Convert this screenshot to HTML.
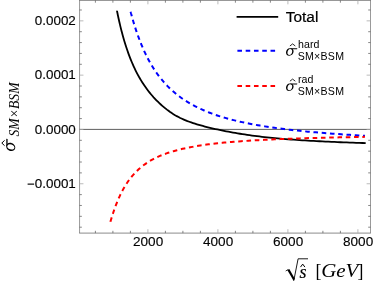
<!DOCTYPE html>
<html><head><meta charset="utf-8"><style>
html,body{margin:0;padding:0;background:#fff;}
body{width:374px;height:283px;overflow:hidden;font-family:"Liberation Sans",sans-serif;}
svg{display:block;filter:blur(0.35px);}
</style></head><body>
<svg width="374" height="283" viewBox="0 0 374 283">
<rect width="374" height="283" fill="#fff"/>
<path d="M79.55,0V233.1M370.5,0V233.1" stroke="#6e6e6e" stroke-width="0.7" fill="none"/>
<path d="M79.2,0.4H370.85M79.2,233.1H370.85" stroke="#6e6e6e" stroke-width="0.8" fill="none"/>
<line x1="79.55" y1="129.4" x2="370.5" y2="129.4" stroke="#4d4d4d" stroke-width="0.9"/>
<path d="M95.40,233.1v-2.3M95.40,0.4v2.3M112.90,233.1v-2.3M112.90,0.4v2.3M130.40,233.1v-2.3M130.40,0.4v2.3M165.40,233.1v-2.3M165.40,0.4v2.3M182.90,233.1v-2.3M182.90,0.4v2.3M200.40,233.1v-2.3M200.40,0.4v2.3M235.40,233.1v-2.3M235.40,0.4v2.3M252.90,233.1v-2.3M252.90,0.4v2.3M270.40,233.1v-2.3M270.40,0.4v2.3M305.40,233.1v-2.3M305.40,0.4v2.3M322.90,233.1v-2.3M322.90,0.4v2.3M340.40,233.1v-2.3M340.40,0.4v2.3M79.55,227.19h2.3M370.5,227.19h-2.3M79.55,216.33h2.3M370.5,216.33h-2.3M79.55,205.47h2.3M370.5,205.47h-2.3M79.55,194.61h2.3M370.5,194.61h-2.3M79.55,172.89h2.3M370.5,172.89h-2.3M79.55,162.03h2.3M370.5,162.03h-2.3M79.55,151.17h2.3M370.5,151.17h-2.3M79.55,140.31h2.3M370.5,140.31h-2.3M79.55,118.59h2.3M370.5,118.59h-2.3M79.55,107.73h2.3M370.5,107.73h-2.3M79.55,96.87h2.3M370.5,96.87h-2.3M79.55,86.01h2.3M370.5,86.01h-2.3M79.55,64.29h2.3M370.5,64.29h-2.3M79.55,53.43h2.3M370.5,53.43h-2.3M79.55,42.57h2.3M370.5,42.57h-2.3M79.55,31.71h2.3M370.5,31.71h-2.3M79.55,9.99h2.3M370.5,9.99h-2.3" stroke="#555" stroke-width="0.7" fill="none"/>
<path d="M147.90,233.1v-3.9M147.90,0.4v3.9M217.90,233.1v-3.9M217.90,0.4v3.9M287.90,233.1v-3.9M287.90,0.4v3.9M357.90,233.1v-3.9M357.90,0.4v3.9M79.55,183.75h3.9M370.5,183.75h-3.9M79.55,129.45h3.9M370.5,129.45h-3.9M79.55,75.15h3.9M370.5,75.15h-3.9M79.55,20.85h3.9M370.5,20.85h-3.9" stroke="#aaa" stroke-width="0.8" fill="none"/>
<path d="M116.95,10.71 L116.98,10.89 L117.07,11.31 L117.20,11.96 L117.37,12.79 L117.58,13.80 L117.82,14.97 L118.10,16.28 L118.41,17.73 L118.75,19.30 L119.13,20.99 L119.54,22.77 L119.98,24.64 L120.44,26.60 L120.94,28.62 L121.47,30.70 L122.03,32.84 L122.61,35.01 L123.23,37.22 L123.87,39.46 L124.54,41.72 L125.24,43.99 L125.96,46.27 L126.71,48.56 L127.49,50.83 L128.29,53.10 L129.12,55.36 L129.98,57.60 L130.86,59.82 L131.76,62.02 L132.70,64.19 L133.65,66.33 L134.64,68.44 L135.64,70.52 L136.67,72.56 L137.73,74.57 L138.81,76.55 L139.92,78.48 L141.05,80.38 L142.20,82.24 L143.38,84.06 L144.58,85.84 L145.80,87.58 L147.05,89.29 L148.32,90.96 L149.62,92.60 L150.94,94.20 L152.28,95.76 L153.64,97.30 L155.03,98.79 L156.44,100.26 L157.87,101.69 L159.33,103.10 L160.81,104.47 L162.31,105.81 L163.83,107.12 L165.38,108.40 L166.94,109.64 L168.53,110.84 L170.14,112.01 L171.78,113.12 L173.43,114.18 L175.11,115.20 L176.81,116.16 L178.53,117.07 L180.28,117.95 L182.04,118.78 L183.83,119.58 L185.63,120.34 L187.46,121.07 L189.31,121.76 L191.18,122.43 L193.08,123.08 L194.99,123.70 L196.92,124.30 L198.88,124.88 L200.86,125.44 L202.86,125.99 L204.87,126.52 L206.91,127.04 L208.97,127.54 L211.05,128.04 L213.16,128.53 L215.28,129.01 L217.42,129.48 L219.58,129.94 L221.77,130.40 L223.97,130.85 L226.20,131.29 L228.44,131.72 L230.71,132.14 L232.99,132.55 L235.30,132.96 L237.62,133.35 L239.97,133.74 L242.33,134.11 L244.72,134.48 L247.12,134.83 L249.55,135.18 L252.00,135.52 L254.46,135.84 L256.95,136.16 L259.45,136.47 L261.98,136.77 L264.52,137.06 L267.08,137.34 L269.67,137.61 L272.27,137.88 L274.89,138.13 L277.53,138.38 L280.20,138.62 L282.88,138.85 L285.58,139.08 L288.30,139.29 L291.04,139.50 L293.79,139.71 L296.57,139.90 L299.37,140.09 L302.19,140.28 L305.02,140.46 L307.87,140.63 L310.75,140.80 L313.64,140.96 L316.55,141.12 L319.48,141.27 L322.43,141.42 L325.40,141.57 L328.39,141.71 L331.39,141.84 L334.42,141.97 L337.46,142.10 L340.53,142.23 L343.61,142.35 L346.71,142.46 L349.83,142.58 L352.96,142.69 L356.12,142.80 L359.29,142.90 L362.49,143.00 L365.70,143.10" stroke="#000" stroke-width="1.8" fill="none"/>
<path d="M130.60,11.73 L130.63,11.85 L130.71,12.16 L130.84,12.62 L130.99,13.22 L131.19,13.94 L131.42,14.79 L131.68,15.74 L131.97,16.80 L132.30,17.96 L132.65,19.20 L133.04,20.52 L133.45,21.92 L133.89,23.39 L134.36,24.93 L134.86,26.51 L135.38,28.15 L135.94,29.84 L136.51,31.57 L137.12,33.33 L137.75,35.12 L138.41,36.93 L139.09,38.77 L139.79,40.62 L140.53,42.48 L141.28,44.35 L142.07,46.23 L142.87,48.10 L143.70,49.97 L144.56,51.84 L145.43,53.70 L146.34,55.54 L147.26,57.38 L148.21,59.20 L149.18,61.00 L150.18,62.78 L151.20,64.53 L152.24,66.27 L153.30,67.98 L154.39,69.67 L155.50,71.33 L156.63,72.97 L157.78,74.57 L158.96,76.15 L160.16,77.70 L161.38,79.22 L162.62,80.72 L163.88,82.18 L165.17,83.61 L166.47,85.01 L167.80,86.39 L169.15,87.73 L170.52,89.04 L171.92,90.33 L173.33,91.58 L174.77,92.81 L176.22,94.01 L177.70,95.18 L179.20,96.32 L180.72,97.44 L182.25,98.53 L183.81,99.59 L185.40,100.63 L187.00,101.64 L188.62,102.63 L190.26,103.59 L191.92,104.53 L193.60,105.44 L195.31,106.33 L197.03,107.20 L198.77,108.05 L200.54,108.88 L202.32,109.68 L204.12,110.47 L205.95,111.23 L207.79,111.98 L209.65,112.71 L211.53,113.42 L213.43,114.11 L215.36,114.78 L217.30,115.44 L219.26,116.08 L221.24,116.70 L223.24,117.31 L225.25,117.90 L227.29,118.48 L229.35,119.04 L231.43,119.59 L233.52,120.12 L235.64,120.65 L237.77,121.16 L239.92,121.65 L242.10,122.14 L244.29,122.61 L246.50,123.07 L248.72,123.52 L250.97,123.96 L253.24,124.39 L255.52,124.80 L257.83,125.21 L260.15,125.61 L262.49,126.00 L264.85,126.38 L267.23,126.75 L269.63,127.11 L272.04,127.46 L274.48,127.81 L276.93,128.14 L279.40,128.47 L281.89,128.79 L284.40,129.11 L286.92,129.41 L289.47,129.71 L292.03,130.00 L294.61,130.29 L297.21,130.57 L299.82,130.84 L302.46,131.11 L305.11,131.37 L307.78,131.63 L310.47,131.88 L313.18,132.12 L315.90,132.36 L318.65,132.60 L321.41,132.82 L324.19,133.05 L326.98,133.27 L329.80,133.48 L332.63,133.69 L335.48,133.90 L338.35,134.10 L341.23,134.30 L344.14,134.49 L347.06,134.68 L350.00,134.86 L352.95,135.04 L355.92,135.22 L358.92,135.40 L361.92,135.57 L364.95,135.73" stroke="#0000ff" stroke-width="2.0" stroke-dasharray="4.58 3.70" fill="none"/>
<path d="M110.40,221.80 L110.44,221.68 L110.52,221.38 L110.66,220.92 L110.83,220.33 L111.04,219.61 L111.29,218.78 L111.57,217.85 L111.89,216.81 L112.24,215.69 L112.63,214.48 L113.05,213.20 L113.50,211.85 L113.98,210.45 L114.49,208.99 L115.03,207.49 L115.60,205.96 L116.20,204.39 L116.82,202.80 L117.48,201.19 L118.17,199.57 L118.88,197.94 L119.62,196.31 L120.39,194.68 L121.18,193.07 L122.00,191.46 L122.85,189.87 L123.73,188.29 L124.63,186.74 L125.56,185.21 L126.51,183.71 L127.49,182.23 L128.50,180.79 L129.53,179.38 L130.58,178.00 L131.67,176.65 L132.77,175.33 L133.90,174.05 L135.06,172.81 L136.24,171.59 L137.44,170.42 L138.67,169.27 L139.93,168.17 L141.20,167.09 L142.50,166.05 L143.83,165.04 L145.18,164.07 L146.55,163.12 L147.95,162.21 L149.37,161.33 L150.81,160.47 L152.28,159.65 L153.77,158.85 L155.28,158.08 L156.81,157.34 L158.37,156.62 L159.95,155.93 L161.56,155.26 L163.19,154.61 L164.84,153.99 L166.51,153.39 L168.20,152.81 L169.92,152.25 L171.66,151.71 L173.42,151.19 L175.20,150.68 L177.01,150.20 L178.84,149.73 L180.68,149.27 L182.56,148.84 L184.45,148.41 L186.36,148.00 L188.30,147.61 L190.26,147.23 L192.24,146.86 L194.24,146.51 L196.26,146.17 L198.31,145.83 L200.37,145.51 L202.46,145.20 L204.57,144.90 L206.70,144.61 L208.85,144.33 L211.02,144.06 L213.21,143.80 L215.43,143.55 L217.66,143.30 L219.92,143.07 L222.19,142.84 L224.49,142.61 L226.81,142.40 L229.15,142.19 L231.51,141.99 L233.89,141.79 L236.29,141.60 L238.71,141.42 L241.15,141.24 L243.61,141.06 L246.09,140.90 L248.59,140.73 L251.12,140.57 L253.66,140.42 L256.22,140.27 L258.81,140.13 L261.41,139.99 L264.03,139.85 L266.68,139.72 L269.34,139.59 L272.03,139.46 L274.73,139.34 L277.45,139.22 L280.20,139.11 L282.96,139.00 L285.74,138.89 L288.55,138.78 L291.37,138.68 L294.21,138.58 L297.07,138.48 L299.95,138.39 L302.86,138.30 L305.78,138.21 L308.72,138.12 L311.68,138.03 L314.66,137.95 L317.66,137.87 L320.67,137.79 L323.71,137.71 L326.77,137.64 L329.84,137.57 L332.94,137.50 L336.05,137.43 L339.19,137.36 L342.34,137.29 L345.51,137.23 L348.71,137.16 L351.92,137.10 L355.15,137.04 L358.40,136.98 L361.66,136.93 L364.95,136.87" stroke="#ff0000" stroke-width="2.0" stroke-dasharray="4.58 3.70" fill="none"/>
<line x1="236.6" y1="16.85" x2="278.2" y2="16.85" stroke="#000" stroke-width="1.8"/>
<line x1="237.4" y1="50.7" x2="277.9" y2="50.7" stroke="#0000ff" stroke-width="2.0" stroke-dasharray="4.58 3.70"/>
<line x1="237.4" y1="85.9" x2="277.9" y2="85.9" stroke="#ff0000" stroke-width="2.0" stroke-dasharray="4.58 3.70"/>
<text x="34.800000000000004" y="24.5" font-family="Liberation Sans, sans-serif" font-size="12.5" text-anchor="start" fill="#000" stroke="#000" stroke-width="0.12" textLength="41.0" lengthAdjust="spacingAndGlyphs">0.0002</text>
<text x="34.800000000000004" y="79.0" font-family="Liberation Sans, sans-serif" font-size="12.5" text-anchor="start" fill="#000" stroke="#000" stroke-width="0.12" textLength="41.0" lengthAdjust="spacingAndGlyphs">0.0001</text>
<text x="34.800000000000004" y="133.5" font-family="Liberation Sans, sans-serif" font-size="12.5" text-anchor="start" fill="#000" stroke="#000" stroke-width="0.12" textLength="41.0" lengthAdjust="spacingAndGlyphs">0.0000</text>
<text x="34.800000000000004" y="188.0" font-family="Liberation Sans, sans-serif" font-size="12.5" text-anchor="start" fill="#000" stroke="#000" stroke-width="0.12" textLength="41.0" lengthAdjust="spacingAndGlyphs">0.0001</text>
<rect x="27.6" y="183.55" width="6.5" height="1.15" fill="#000"/>
<text x="148.1" y="246.45" font-family="Liberation Sans, sans-serif" font-size="12.8" text-anchor="middle" stroke="#000" stroke-width="0.12" textLength="30.2" lengthAdjust="spacingAndGlyphs">2000</text>
<text x="218.1" y="246.45" font-family="Liberation Sans, sans-serif" font-size="12.8" text-anchor="middle" stroke="#000" stroke-width="0.12" textLength="30.2" lengthAdjust="spacingAndGlyphs">4000</text>
<text x="288.09999999999997" y="246.45" font-family="Liberation Sans, sans-serif" font-size="12.8" text-anchor="middle" stroke="#000" stroke-width="0.12" textLength="30.2" lengthAdjust="spacingAndGlyphs">6000</text>
<text x="358.09999999999997" y="246.45" font-family="Liberation Sans, sans-serif" font-size="12.8" text-anchor="middle" stroke="#000" stroke-width="0.12" textLength="30.2" lengthAdjust="spacingAndGlyphs">8000</text>
<text x="285.8" y="21.75" font-family="Liberation Sans, sans-serif" font-size="15.4" stroke="#000" stroke-width="0.2">Total</text>
<g transform="translate(286.0,55.6)"><g transform="scale(1)"><path fill="#000" fill-rule="evenodd" d="M3.9,-7.3 C1.6,-7.3 0,-5.2 0,-3.1 C0,-1.1 1.3,0.15 3.2,0.15 C5.6,0.15 7.6,-1.9 7.6,-4.3 C7.6,-6.1 6.3,-7.3 3.9,-7.3 Z M4.2,-6.55 C5.5,-6.55 6.2,-5.7 6.2,-4.4 C6.2,-2.5 4.9,-0.55 3.3,-0.55 C2.1,-0.55 1.45,-1.5 1.45,-2.8 C1.45,-4.6 2.6,-6.55 4.2,-6.55 Z"/><path fill="#000" d="M3.6,-7.35 L11.3,-7.35 L11.05,-6.25 L5.6,-6.25 Z"/></g><path d="M3.9,-9.6 L6.6,-11.7 L9.3,-9.6" stroke="#000" stroke-width="0.85" fill="none"/></g><text x="298.1" y="47.800000000000004" font-family="Liberation Sans, sans-serif" font-size="10.6">hard</text><text x="297.7" y="60.050000000000004" font-family="Liberation Sans, sans-serif" font-size="10.6" textLength="46.3" lengthAdjust="spacing">SM×BSM</text>
<g transform="translate(286.0,90.8)"><g transform="scale(1)"><path fill="#000" fill-rule="evenodd" d="M3.9,-7.3 C1.6,-7.3 0,-5.2 0,-3.1 C0,-1.1 1.3,0.15 3.2,0.15 C5.6,0.15 7.6,-1.9 7.6,-4.3 C7.6,-6.1 6.3,-7.3 3.9,-7.3 Z M4.2,-6.55 C5.5,-6.55 6.2,-5.7 6.2,-4.4 C6.2,-2.5 4.9,-0.55 3.3,-0.55 C2.1,-0.55 1.45,-1.5 1.45,-2.8 C1.45,-4.6 2.6,-6.55 4.2,-6.55 Z"/><path fill="#000" d="M3.6,-7.35 L11.3,-7.35 L11.05,-6.25 L5.6,-6.25 Z"/></g><path d="M3.9,-9.6 L6.6,-11.7 L9.3,-9.6" stroke="#000" stroke-width="0.85" fill="none"/></g><text x="298.1" y="83.0" font-family="Liberation Sans, sans-serif" font-size="10.6">rad</text><text x="297.7" y="95.25" font-family="Liberation Sans, sans-serif" font-size="10.6" textLength="46.3" lengthAdjust="spacing">SM×BSM</text>
<g transform="translate(15.1,151.1) rotate(-90)"><g transform="scale(1.09,1.2)"><g transform="scale(1)"><path fill="#000" fill-rule="evenodd" d="M3.9,-7.3 C1.6,-7.3 0,-5.2 0,-3.1 C0,-1.1 1.3,0.15 3.2,0.15 C5.6,0.15 7.6,-1.9 7.6,-4.3 C7.6,-6.1 6.3,-7.3 3.9,-7.3 Z M4.2,-6.55 C5.5,-6.55 6.2,-5.7 6.2,-4.4 C6.2,-2.5 4.9,-0.55 3.3,-0.55 C2.1,-0.55 1.45,-1.5 1.45,-2.8 C1.45,-4.6 2.6,-6.55 4.2,-6.55 Z"/><path fill="#000" d="M3.6,-7.35 L11.3,-7.35 L11.05,-6.25 L5.6,-6.25 Z"/></g></g><path d="M5.4,-10.5 L8.05,-13.3 L10.7,-10.5" stroke="#000" stroke-width="1.0" fill="none"/><text x="14.6" y="4.0" font-family="Liberation Serif, serif" font-style="italic" font-size="13.7">SM×BSM</text></g>
<path d="M285.7,271.0 L288.1,269.6" stroke="#000" stroke-width="0.8" fill="none"/>
<path d="M287.3,270.0 L289.3,269.0 L294.7,278.4 L293.7,280.9 Z" fill="#000"/>
<path d="M293.8,280.6 L298.1,258.8 L308.0,258.8" stroke="#000" stroke-width="0.9" fill="none" stroke-linejoin="miter"/>
<text x="299.4" y="277.8" font-family="Liberation Serif, serif" font-style="italic" font-size="18" stroke="#000" stroke-width="0.2">s</text>
<path d="M300.5,267.1 l2.2,-3.0 l2.2,3.0" stroke="#000" stroke-width="1.0" fill="none"/>
<text x="315.5" y="276.7" font-family="Liberation Serif, serif" font-size="17.8">[</text>
<text x="321.2" y="277.4" font-family="Liberation Serif, serif" font-style="italic" font-size="18.5" textLength="37.2" lengthAdjust="spacingAndGlyphs">GeV</text>
<text x="357.4" y="276.7" font-family="Liberation Serif, serif" font-size="17.8">]</text>
</svg>
</body></html>
